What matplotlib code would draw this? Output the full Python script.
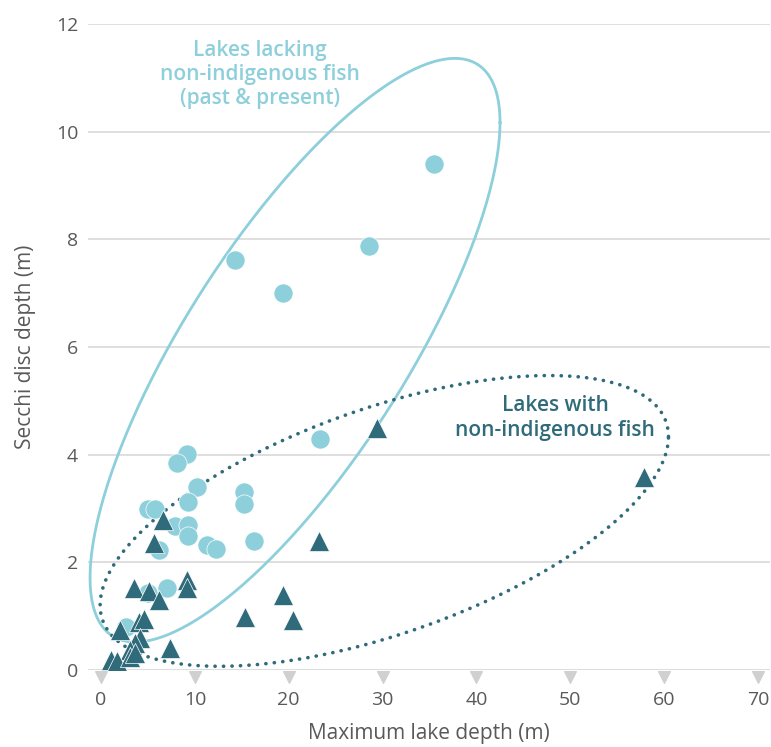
import matplotlib
matplotlib.use("Agg")
import matplotlib.pyplot as plt
import numpy as np

# Lakes lacking non-indigenous fish (past & present)
lack_x = [35.5, 28.5, 14.3, 19.35, 23.3, 15.2, 15.2, 16.3, 10.2, 9.3, 9.2, 8.1,
          5.0, 5.75, 7.9, 9.3, 9.3, 6.2, 11.25, 12.3, 5.0, 7.06, 2.66]
lack_y = [9.39, 7.88, 7.61, 7.0, 4.29, 3.31, 3.09, 2.4, 3.4, 3.13, 4.01, 3.84,
          3.0, 3.0, 2.68, 2.7, 2.49, 2.23, 2.32, 2.24, 1.43, 1.52, 0.8]

# Lakes with non-indigenous fish
with_x = [29.4, 57.8, 23.2, 19.35, 15.3, 20.4, 6.6, 5.65, 9.2, 9.2, 3.5, 5.1,
          6.2, 4.0, 4.6, 2.0, 4.1, 3.6, 3.1, 7.3, 1.1, 1.7, 3.1, 3.6]
with_y = [4.5, 3.59, 2.4, 1.39, 0.99, 0.93, 2.79, 2.36, 1.68, 1.52, 1.52, 1.46,
          1.3, 0.9, 0.94, 0.74, 0.59, 0.5, 0.37, 0.41, 0.19, 0.17, 0.24, 0.31]

x_ticks = [0, 10, 20, 30, 40, 50, 60, 70]
y_ticks = [0, 2, 4, 6, 8, 10, 12]

light = "#8dcfda"
dark = "#2f6b7a"
grey = "#595959"

plt.rcParams['font.family'] = ['Open Sans', 'DejaVu Sans']

fig = plt.figure(figsize=(7.71, 7.47), dpi=100)
ax = fig.add_axes([0.114, 0.103, 0.885, 0.865])
ax.set_xlim(-1.4, 71.3)
ax.set_ylim(0, 12)


def ellipse(cx, cy, rx, ry, rho, n=400):
    # tilted ellipse given its centre, half extents and x/y correlation
    t = np.linspace(0, 2 * np.pi, n)
    xs = cx + rx * np.cos(t)
    ys = cy + ry * (rho * np.cos(t) + np.sqrt(1 - rho ** 2) * np.sin(t))
    return xs, ys


# grouping ellipses
ex, ey = ellipse(20.67, 5.94, 21.84, 5.42, 0.78)
ax.plot(ex, ey, color=light, lw=2, zorder=2, clip_on=False)
ex, ey = ellipse(30.18, 2.77, 30.28, 2.70, 0.58)
ax.plot(ex, ey, color=dark, lw=2.6, linestyle=(0, (0.05, 2.3)),
        dash_capstyle='round', zorder=2, clip_on=False)

ax.scatter(lack_x, lack_y, s=190, marker='o', color=light,
           edgecolor='white', linewidth=0.5, zorder=3)
ax.scatter(with_x, with_y, s=210, marker='^', color=dark,
           edgecolor='white', linewidth=0.5, zorder=4)

# grid
for y in y_ticks:
    ax.axhline(y, color="#d9d9d9", lw=1.2 if y else 2, zorder=1)
ax.scatter(x_ticks, [-0.13] * len(x_ticks), marker='v', s=70,
           color="#d0d0d0", clip_on=False, zorder=1)

for s in ax.spines.values():
    s.set_visible(False)
ax.set_xticks(x_ticks)
ax.set_yticks(y_ticks)
ax.tick_params(length=0, labelsize=14, colors=grey)
ax.tick_params(axis='x', pad=15)
ax.tick_params(axis='y', pad=7)

ax.set_xlabel("Maximum lake depth (m)", fontsize=15, color=grey, labelpad=10)
ax.set_ylabel("Secchi disc depth (m)", fontsize=15, color=grey, labelpad=14)

ax.text(16.9, 11.06, "Lakes lacking\nnon-indigenous fish\n(past & present)",
        ha='center', va='center', fontsize=15, color=light,
        fontweight='semibold', linespacing=1.2)
ax.text(48.4, 4.68, "Lakes with\nnon-indigenous fish",
        ha='center', va='center', fontsize=15, color=dark,
        fontweight='semibold', linespacing=1.2)

fig.savefig("out.png", dpi=100)
